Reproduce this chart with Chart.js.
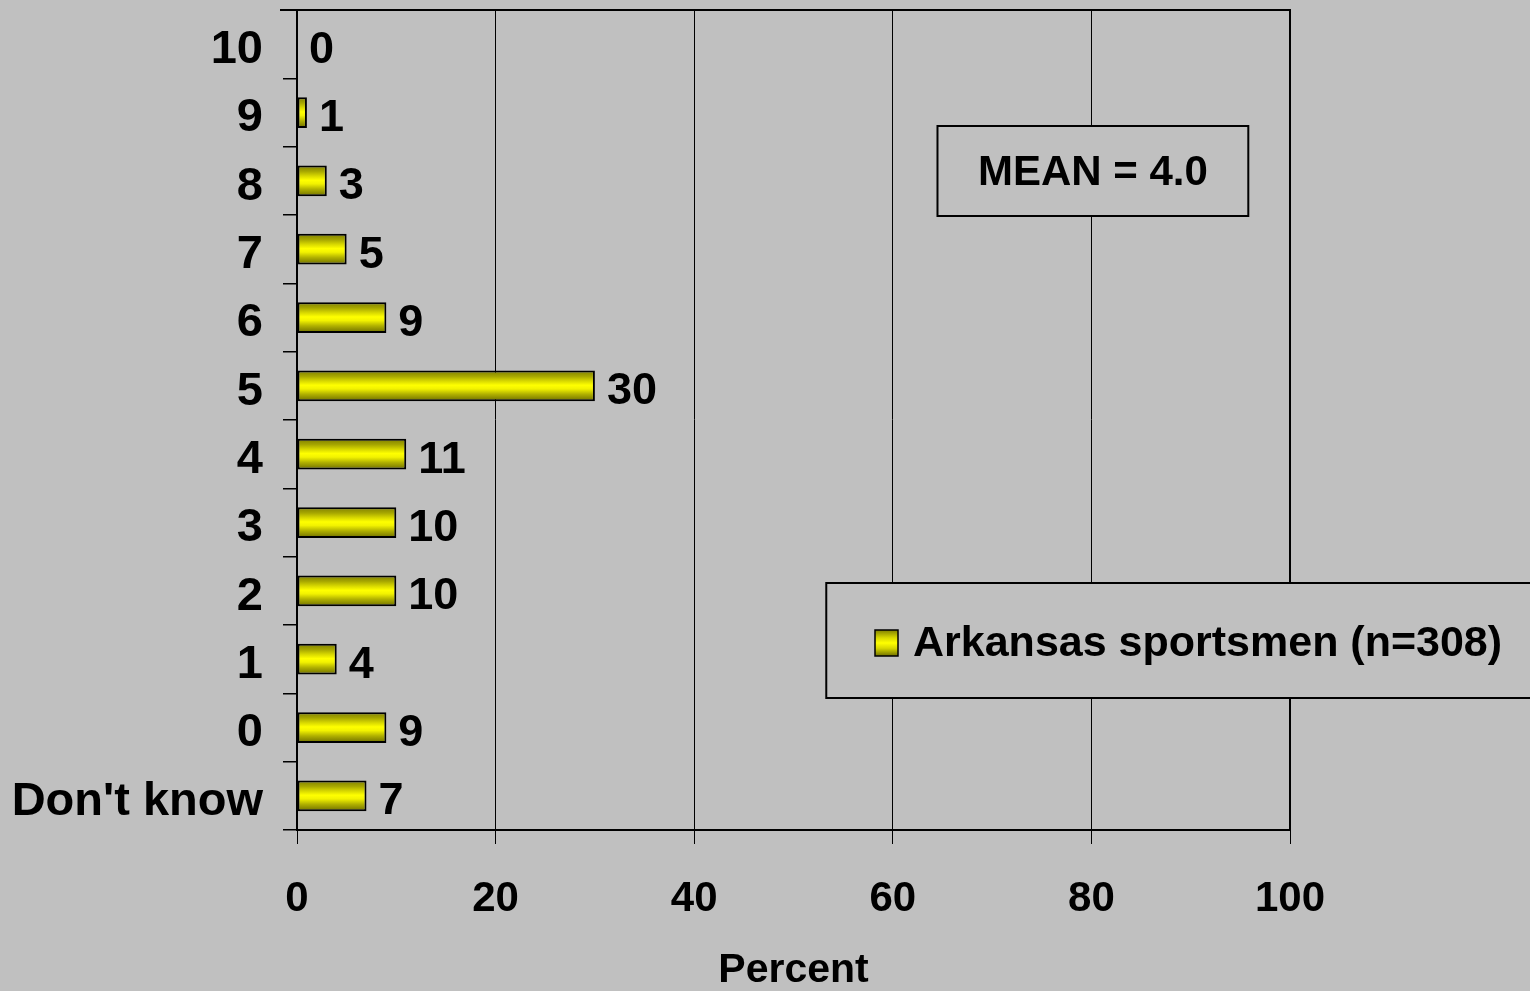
<!DOCTYPE html>
<html>
<head>
<meta charset="utf-8">
<script src="https://cdn.jsdelivr.net/npm/chart.js@4/dist/chart.umd.min.js"></script>
<style>
    html, body { margin: 0; padding: 0; background: #c0c0c0; }
    #wrap { width: 1530px; height: 991px; }
</style>
</head>
<body>
<div id="wrap"><canvas id="chart" width="1530" height="991"></canvas></div>
<script>
const categories = ['10', '9', '8', '7', '6', '5', '4', '3', '2', '1', '0', "Don't know"];
const percents = [0, 1, 3, 5, 9, 30, 11, 10, 10, 4, 9, 7];
const xTicks = [0, 20, 40, 60, 80, 100];
const seriesLabel = 'Arkansas sportsmen (n=308)';
const meanText = 'MEAN = 4.0';

const FONT = "'Liberation Sans', Arial, sans-serif";

// yellow bar with darker top/bottom edges, built per bar from the y scale
function barGradient(ctx) {
    const chart = ctx.chart;
    const yScale = chart.scales.y;
    if (!yScale || ctx.dataIndex === undefined) return '#ffff00';
    const c = yScale.getPixelForValue(ctx.dataIndex);
    if (!Number.isFinite(c)) return '#ffff00';
    const half = 15;
    const g = chart.ctx.createLinearGradient(0, c - half, 0, c + half);
    g.addColorStop(0, '#808000');
    g.addColorStop(0.18, '#a6a600');
    g.addColorStop(0.34, '#d8d800');
    g.addColorStop(0.48, '#ffff00');
    g.addColorStop(0.6, '#f2f200');
    g.addColorStop(0.78, '#b0b000');
    g.addColorStop(1, '#707000');
    return g;
}

const valueLabels = {
    id: 'valueLabels',
    afterDatasetsDraw(chart) {
        const ctx = chart.ctx;
        const meta = chart.getDatasetMeta(0);
        ctx.save();
        ctx.font = 'bold 45px ' + FONT;
        ctx.fillStyle = '#000';
        ctx.textBaseline = 'middle';
        ctx.textAlign = 'left';
        meta.data.forEach((bar, i) => {
            ctx.fillText(String(percents[i]), bar.x + 12, bar.y + 6);
        });
        ctx.restore();
    }
};

const frameAndBoxes = {
    id: 'frameAndBoxes',
    afterDraw(chart) {
        const ctx = chart.ctx;
        const a = chart.chartArea;
        ctx.save();
        // top frame line
        ctx.strokeStyle = '#000';
        ctx.lineWidth = 2;
        ctx.beginPath();
        ctx.moveTo(a.left - 17, a.top);
        ctx.lineTo(a.right + 1, a.top);
        ctx.moveTo(a.right, a.top);
        ctx.lineTo(a.right, a.bottom);
        ctx.stroke();

        const xs = chart.scales.x;

        // mean box
        const mx0 = xs.getPixelForValue(64.5), mx1 = xs.getPixelForValue(95.8);
        const my0 = 126, my1 = 216;
        ctx.fillStyle = '#c0c0c0';
        ctx.fillRect(mx0, my0, mx1 - mx0, my1 - my0);
        ctx.strokeRect(mx0, my0, mx1 - mx0, my1 - my0);
        ctx.fillStyle = '#000';
        ctx.font = 'bold 42px ' + FONT;
        ctx.textAlign = 'center';
        ctx.textBaseline = 'middle';
        ctx.fillText(meanText, (mx0 + mx1) / 2, (my0 + my1) / 2 + 2);

        // legend box
        const lx0 = xs.getPixelForValue(53.3), lx1 = chart.width + 2;
        const ly0 = 583, ly1 = 698;
        ctx.fillStyle = '#c0c0c0';
        ctx.fillRect(lx0, ly0, lx1 - lx0, ly1 - ly0);
        ctx.strokeRect(lx0, ly0, lx1 - lx0, ly1 - ly0);
        const sx = 875, sy = 630, sw = 23, sh = 26;
        const g = ctx.createLinearGradient(0, sy, 0, sy + sh);
        g.addColorStop(0, '#808000');
        g.addColorStop(0.3, '#d8d800');
        g.addColorStop(0.5, '#ffff00');
        g.addColorStop(0.7, '#d8d800');
        g.addColorStop(1, '#707000');
        ctx.fillStyle = g;
        ctx.fillRect(sx, sy, sw, sh);
        ctx.lineWidth = 1.5;
        ctx.strokeRect(sx, sy, sw, sh);
        ctx.fillStyle = '#000';
        ctx.textAlign = 'left';
        ctx.font = 'bold 43px ' + FONT;
        ctx.fillText(chart.data.datasets[0].label, 913, 644);
        ctx.restore();
    }
};

document.addEventListener('DOMContentLoaded', () => {
    const ctx = document.getElementById('chart').getContext('2d');
    const chart = new Chart(ctx, {
        type: 'bar',
        data: {
            labels: categories,
            datasets: [{
                label: seriesLabel,
                data: percents,
                backgroundColor: barGradient,
                borderColor: '#000',
                borderWidth: 2,
                borderSkipped: false,
                barPercentage: 0.45,
                categoryPercentage: 1.0
            }]
        },
        options: {
            indexAxis: 'y',
            responsive: false,
            animation: false,
            layout: { padding: { left: 0, top: 10, right: 240, bottom: 0 } },
            plugins: {
                legend: { display: false },
                tooltip: { enabled: false }
            },
            scales: {
                x: {
                    min: 0,
                    max: 100,
                    afterBuildTicks: (scale) => { scale.ticks = xTicks.map(v => ({ value: v })); },
                    afterFit: (scale) => {
                        scale.height = 161;
                        scale.paddingLeft = 0;
                        scale.paddingRight = 0;
                    },
                    grid: {
                        color: '#000',
                        lineWidth: 1,
                        tickLength: 14,
                        drawOnChartArea: true
                    },
                    border: { color: '#000', width: 2 },
                    ticks: {
                        color: '#000',
                        font: { family: FONT, size: 42, weight: 'bold' },
                        padding: 30,
                        maxRotation: 0
                    },
                    title: {
                        display: true,
                        text: 'Percent',
                        color: '#000',
                        font: { family: FONT, size: 41, weight: 'bold', lineHeight: 1 },
                        padding: { top: 26, bottom: 0 }
                    }
                },
                y: {
                    afterFit: (scale) => {
                        scale.width = 297;
                        scale.paddingTop = 0;
                        scale.paddingBottom = 0;
                    },
                    grid: {
                        offset: true,
                        drawOnChartArea: false,
                        color: '#000',
                        lineWidth: 1.5,
                        tickLength: 14
                    },
                    border: { color: '#000', width: 2 },
                    ticks: {
                        color: '#000',
                        font: { family: FONT, size: 47, weight: 'bold' },
                        padding: 20,
                        labelOffset: 6
                    }
                }
            }
        },
        plugins: [valueLabels, frameAndBoxes]
    });
    // second pass so the gradients see the fitted scales
    chart.update();
});
</script>
</body>
</html>
